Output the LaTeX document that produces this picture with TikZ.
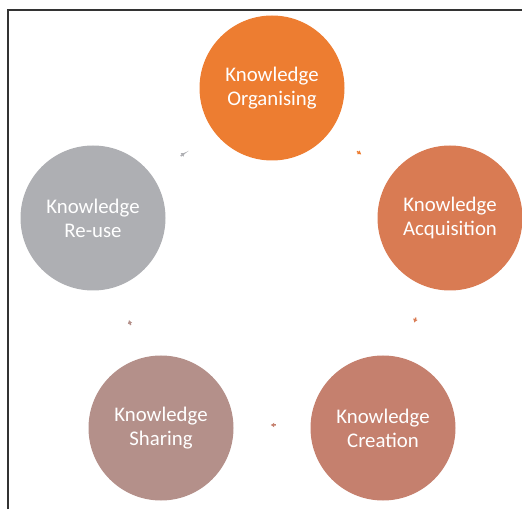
\documentclass[tikz,border=0pt]{standalone}
\usepackage{fontspec}
\setmainfont{Carlito}
\usetikzlibrary{arrows.meta}

\definecolor{organise}{HTML}{ED7D31}
\definecolor{acquire}{HTML}{D97B53}
\definecolor{create}{HTML}{C5806E}
\definecolor{share}{HTML}{B4908A}
\definecolor{reuse}{HTML}{AEAFB3}

\tikzset{
    stage/.style={circle, minimum size=145pt, inner sep=0pt, text=white,
        align=center, font=\fontsize{20.8}{24}\selectfont},
    tick/.style={line width=1.5pt, -{Latex[length=3.5pt,width=5pt]}},
}

\begin{document}
\begin{tikzpicture}[x=1pt,y=1pt]
        \useasboundingbox (0,0) rectangle (522,509);
        \draw[line width=2.2pt, black!80] (8,0) |- (522,499);

        \coordinate (c) at (272,234);
        \node[stage, fill=organise] (org) at (272,421) {Knowledge\\Organising};
        \node[stage, fill=acquire]  (acq) at (450,291) {Knowledge\\Acquisition};
        \node[stage, fill=create]   (cre) at (383,81)  {Knowledge\\Creation};
        \node[stage, fill=share]    (sha) at (161,81)  {Knowledge\\Sharing};
        \node[stage, fill=reuse]    (reu) at (93,291)  {Knowledge\\Re-use};

        \begin{scope}[shift={(c)}]
            \foreach \a/\col in {126/reuse, 54/organise, -18/acquire, -90/create, -162/share}
                \draw[tick, \col] (\a+1.5:150) arc[start angle=\a+1.5, end angle=\a-0.5, radius=150];
        \end{scope}
    \end{tikzpicture}
\end{document}
